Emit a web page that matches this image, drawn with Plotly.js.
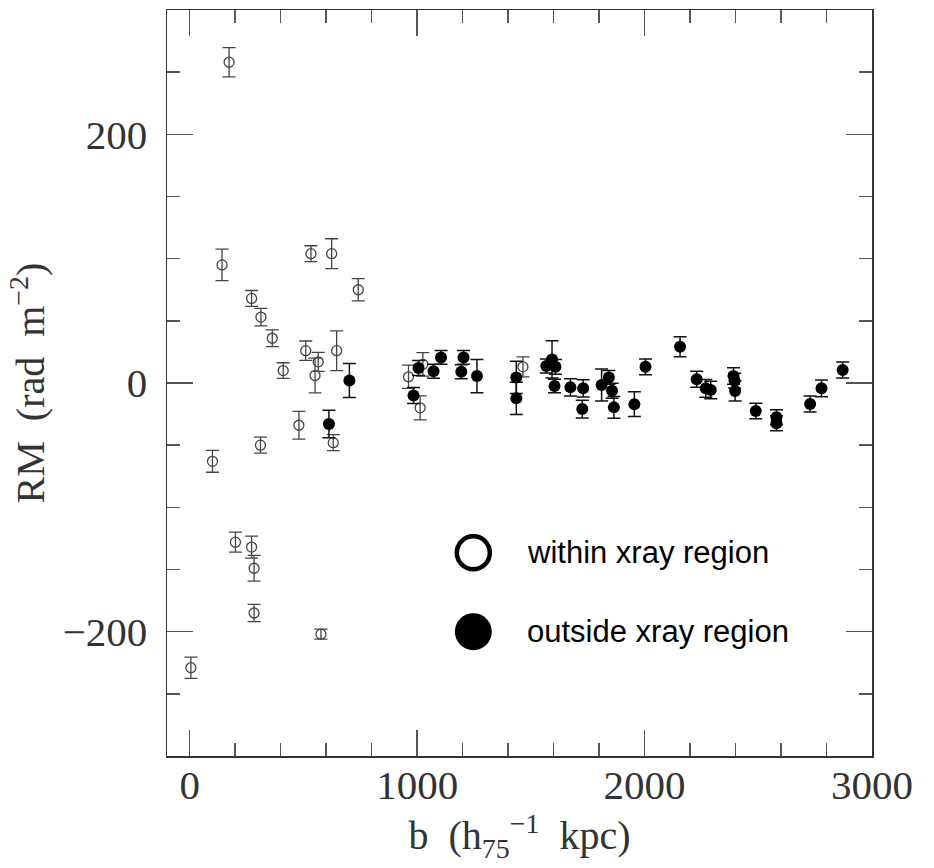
<!DOCTYPE html>
<html>
<head>
<meta charset="utf-8">
<script src="https://cdn.plot.ly/plotly-3.0.1.min.js"></script>
<style>html,body{margin:0;padding:0;background:#fff;}#chart{width:934px;height:868px;}</style>
</head>
<body>
<div id="chart"></div>
<script>
// within xray region (open circles)
const withinB   = [5, 100, 142, 173, 201, 272, 272, 283, 283, 311, 313, 363, 411, 480, 510, 533, 551, 565, 577, 624, 631, 646, 741, 962, 1013, 1025, 1465];
const withinRM  = [-229, -63, 95, 258, -128, 68, -132, -149, -185, -50, 53, 36, 10, -34, 26, 104, 6, 17, -202, 104, -48, 26, 75, 5, -20, 15, 13];
const withinErr = [8.6, 8.8, 12.7, 11.8, 8, 6.4, 8.8, 10.4, 7, 6.4, 7, 6.7, 6.3, 11.2, 7.8, 6.4, 14, 7.6, 4, 12, 6.4, 16, 9, 9.4, 9.6, 9.4, 8];

// outside xray region (filled circles)
const outsideB   = [612, 702, 984, 1006, 1072, 1105, 1194, 1204, 1263, 1436, 1436, 1568, 1593, 1608, 1604, 1674, 1730, 1726, 1811, 1843, 1857, 1865, 1955, 2004, 2156, 2229, 2269, 2291, 2391, 2396, 2398, 2489, 2580, 2580, 2728, 2778, 2871];
const outsideRM  = [-33, 2, -10, 12, 9.5, 20.6, 9, 20.6, 5.6, 4.5, -12.3, 13.7, 19, 13, -2.4, -3.5, -4.3, -21, -1.6, 4.5, -6.2, -19.6, -17, 13, 29.2, 3, -4.3, -5.6, 5.6, 1.9, -6.4, -22.5, -27.6, -32.4, -16.9, -4.3, 10.4];
const outsideErr = [11, 13.7, 6.4, 6, 5.6, 5.6, 5.6, 5.6, 13.4, 13, 13, 5.6, 15, 6, 5.4, 7, 7, 7.2, 12.8, 5.6, 6, 8.8, 10, 6.3, 8, 6.4, 7.2, 7, 6.7, 6, 8, 6.3, 6, 6, 6.4, 6.7, 6.4];

const legendLabels = ["within xray region", "outside xray region"];

const serif = "Liberation Serif, Times New Roman, serif";

const traces = [
  {
    x: withinB, y: withinRM, type: "scatter", mode: "markers", name: legendLabels[0],
    marker: {symbol: "circle-open", size: 10, color: "#444", line: {width: 1.3, color: "#444"}},
    error_y: {type: "data", array: withinErr, visible: true, color: "#444", thickness: 1.3, width: 6.5},
    showlegend: false
  },
  {
    x: outsideB, y: outsideRM, type: "scatter", mode: "markers", name: legendLabels[1],
    marker: {symbol: "circle", size: 12, color: "#000"},
    error_y: {type: "data", array: outsideErr, visible: true, color: "#111", thickness: 1.5, width: 6.5},
    showlegend: false
  }
];

const axisCommon = {
  showline: true, mirror: "ticks", linecolor: "#333", linewidth: 1.5,
  ticks: "inside", ticklen: 26, tickwidth: 1.5, tickcolor: "#555",
  showgrid: false, zeroline: false,
  tickfont: {family: serif, size: 41, color: "#333"}
};

const layout = {
  width: 934, height: 868,
  margin: {l: 167, r: 62, t: 10, b: 112},
  paper_bgcolor: "#fff", plot_bgcolor: "#fff",
  xaxis: Object.assign({}, axisCommon, {
    range: [-100, 3000], tick0: 0, dtick: 1000,
    minor: {dtick: 200, tick0: 0, ticks: "inside", ticklen: 13, tickwidth: 1.5, tickcolor: "#555"},
    ticklabelstandoff: -8,
    title: {text: "b  (h<sub>75</sub><sup>−1</sup>  kpc)", font: {family: serif, size: 40, color: "#333"}, standoff: 14}
  }),
  yaxis: Object.assign({}, axisCommon, {
    range: [-300, 300], tick0: 0, dtick: 200,
    minor: {dtick: 50, tick0: 0, ticks: "inside", ticklen: 13, tickwidth: 1.5, tickcolor: "#555"},
    ticklabelstandoff: 10,
    title: {text: "RM  (rad  m<sup>−2</sup>)", font: {family: serif, size: 40, color: "#333"}, standoff: 5}
  }),
  shapes: [
    {type: "circle", xref: "paper", yref: "paper", xsizemode: "pixel", ysizemode: "pixel",
     xanchor: 0.4345, yanchor: 0.2725, x0: -16.5, x1: 16.5, y0: -16.5, y1: 16.5,
     line: {color: "#000", width: 4.5}, fillcolor: "rgba(0,0,0,0)"},
    {type: "circle", xref: "paper", yref: "paper", xsizemode: "pixel", ysizemode: "pixel",
     xanchor: 0.4345, yanchor: 0.1666, x0: -18.5, x1: 18.5, y0: -18.5, y1: 18.5,
     line: {color: "#000", width: 0}, fillcolor: "#000"}
  ],
  annotations: [
    {xref: "paper", yref: "paper", x: 0.508, y: 0.2725, xanchor: "left", yanchor: "middle",
     text: legendLabels[0], showarrow: false, font: {family: "Liberation Sans, Arial, sans-serif", size: 31, color: "#000"}},
    {xref: "paper", yref: "paper", x: 0.508, y: 0.1666, xanchor: "left", yanchor: "middle",
     text: legendLabels[1], showarrow: false, font: {family: "Liberation Sans, Arial, sans-serif", size: 31, color: "#000"}}
  ]
};

Plotly.newPlot("chart", traces, layout, {displayModeBar: false, staticPlot: true});
</script>
</body>
</html>
